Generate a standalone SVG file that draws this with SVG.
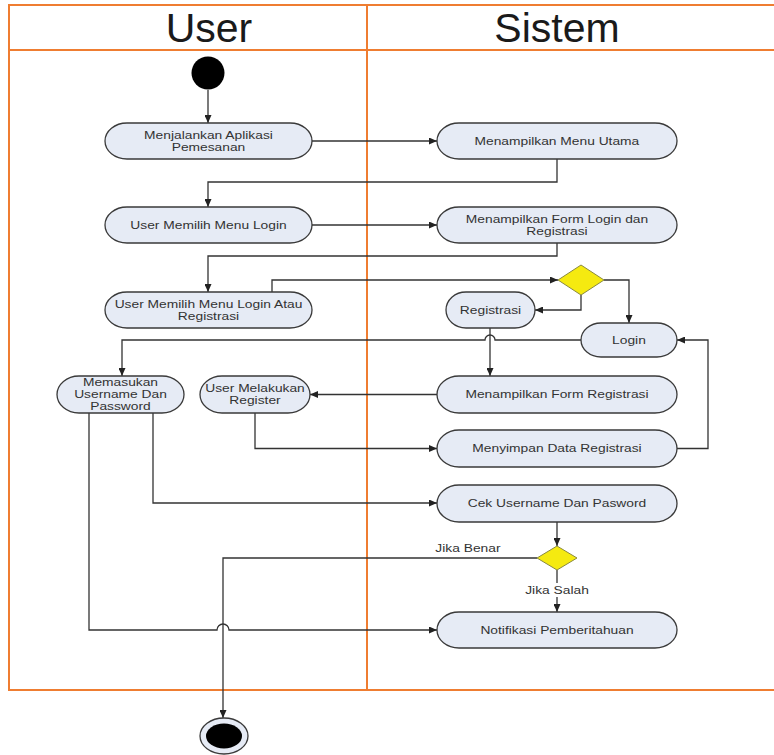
<svg xmlns="http://www.w3.org/2000/svg" width="774" height="755" viewBox="0 0 774 755">
<defs>
<marker id="ah" markerWidth="8" markerHeight="7" refX="8" refY="3.5" orient="auto" markerUnits="userSpaceOnUse">
<path d="M0,0 L8,3.5 L0,7 z" fill="#222"/>
</marker>
<style>
.lane{fill:none;stroke:#ef7d31;stroke-width:2}
.title{font-family:"Liberation Sans",Arial,sans-serif;font-size:41px;fill:#1a1a1a;text-anchor:middle}
.node{fill:#e6ebf5;stroke:#3a3a3a;stroke-width:1.3}
.t{font-family:"Liberation Sans",Arial,sans-serif;font-size:11.5px;fill:#333;text-anchor:middle;transform-box:fill-box;transform-origin:center;transform:scaleX(1.2)}
.c{fill:none;stroke:#333;stroke-width:1.3;marker-end:url(#ah)}
.cn{fill:none;stroke:#333;stroke-width:1.3}
.dia{fill:#f5ea10;stroke:#8a8a40;stroke-width:1}
</style>
</defs>
<rect width="774" height="755" fill="#fff"/>
<g id="swimlanes">
<path class="lane" d="M776,5 H9 V690 H776"/>
<path class="lane" d="M9,50 H776"/>
<path class="lane" d="M367,5 V690"/>
<text class="title" x="209" y="42">User</text>
<text class="title" x="557" y="42">Sistem</text>
</g>
<g id="connectors">
<path class="c" d="M208,90 V123"/>
<path class="c" d="M312,141 H437"/>
<path class="c" d="M557,159 V182 H208 V207"/>
<path class="c" d="M312,225 H437"/>
<path class="c" d="M557,243 V256 H208 V292"/>
<path class="c" d="M272,292 V280 H558"/>
<path class="c" d="M604,280 H629 V323"/>
<path class="c" d="M581,295 V310 H535"/>
<path class="c" d="M581,340 H495 A5,5 0 0 0 485,340 H122 V376"/>
<path class="c" d="M490,328 V376"/>
<path class="c" d="M437,394.5 H310"/>
<path class="c" d="M255,413 V448.5 H437"/>
<path class="c" d="M677,448.5 H708 V340 H677"/>
<path class="c" d="M153,413 V503 H437"/>
<path class="c" d="M89,413 V630 H217 A6,6 0 0 1 229,630 H437"/>
<path class="c" d="M557,522 V546"/>
<path class="c" d="M537,558 H223 V718"/>
<path class="c" d="M557,570 V612"/>
<text class="t" x="468" y="552">Jika Benar</text>
<rect x="525" y="583" width="64" height="14" fill="#fff"/>
<text class="t" x="557" y="594">Jika Salah</text>
</g>
<g id="start"><circle cx="208" cy="73" r="16.5" fill="#000"/></g>
<g id="n1"><rect class="node" x="105" y="123" width="207" height="36" rx="22" ry="18"/><text class="t" x="208.5" y="139">Menjalankan Aplikasi<tspan x="208.5" dy="12">Pemesanan</tspan></text></g>
<g id="n2"><rect class="node" x="437" y="123" width="240" height="36" rx="22" ry="18"/><text class="t" x="557" y="145">Menampilkan Menu Utama</text></g>
<g id="n3"><rect class="node" x="105" y="207" width="207" height="36" rx="22" ry="18"/><text class="t" x="208.5" y="229">User Memilih Menu Login</text></g>
<g id="n4"><rect class="node" x="437" y="207" width="240" height="36" rx="22" ry="18"/><text class="t" x="557" y="223">Menampilkan Form Login dan<tspan x="557" dy="12">Registrasi</tspan></text></g>
<g id="n5"><rect class="node" x="105" y="292" width="207" height="36" rx="22" ry="18"/><text class="t" x="208.5" y="308">User Memilih Menu Login Atau<tspan x="208.5" dy="12">Registrasi</tspan></text></g>
<g id="d1"><path class="dia" d="M581,265 L604,280 L581,295 L558,280 z"/></g>
<g id="n6"><rect class="node" x="446" y="292" width="89" height="36" rx="20" ry="18"/><text class="t" x="490.5" y="314">Registrasi</text></g>
<g id="n7"><rect class="node" x="581" y="323" width="96" height="34" rx="20" ry="17"/><text class="t" x="629" y="344">Login</text></g>
<g id="n8"><rect class="node" x="57" y="376" width="127" height="37" rx="22" ry="18.5"/><text class="t" x="120.5" y="386">Memasukan<tspan x="120.5" dy="12">Username Dan</tspan><tspan x="120.5" dy="12">Password</tspan></text></g>
<g id="n9"><rect class="node" x="200" y="376" width="110" height="37" rx="22" ry="18.5"/><text class="t" x="255" y="392">User Melakukan<tspan x="255" dy="12">Register</tspan></text></g>
<g id="n10"><rect class="node" x="437" y="376" width="240" height="37" rx="22" ry="18.5"/><text class="t" x="557" y="398.5">Menampilkan Form Registrasi</text></g>
<g id="n11"><rect class="node" x="437" y="430" width="240" height="37" rx="22" ry="18.5"/><text class="t" x="557" y="452.5">Menyimpan Data Registrasi</text></g>
<g id="n12"><rect class="node" x="437" y="485" width="240" height="37" rx="22" ry="18.5"/><text class="t" x="557" y="507.5">Cek Username Dan Pasword</text></g>
<g id="d2"><path class="dia" d="M557,546 L577,558 L557,570 L537,558 z"/></g>
<g id="n13"><rect class="node" x="437" y="612" width="240" height="36" rx="22" ry="18"/><text class="t" x="557" y="634">Notifikasi Pemberitahuan</text></g>
<g id="end"><ellipse cx="224" cy="736" rx="24" ry="18" fill="#e6ebf5" stroke="#3a3a3a" stroke-width="1.3"/><ellipse cx="224" cy="736" rx="18" ry="12.5" fill="#000"/></g>
</svg>
